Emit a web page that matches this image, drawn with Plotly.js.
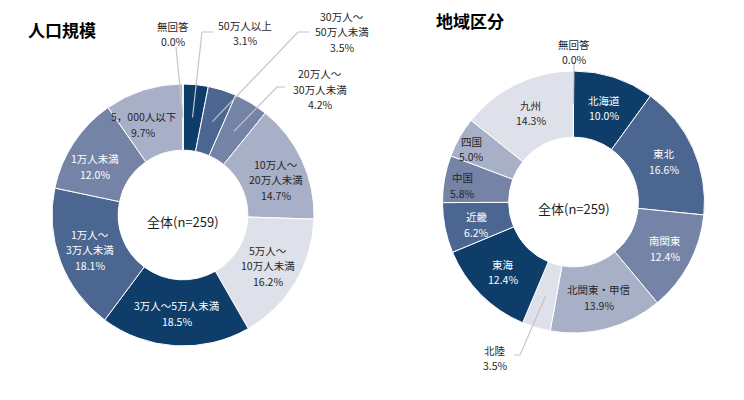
<!DOCTYPE html>
<html>
<head>
<meta charset="utf-8">
<script src="https://cdn.plot.ly/plotly-3.0.1.min.js"></script>
<style>
  html, body { margin: 0; padding: 0; background: #ffffff; }
  #chart { width: 744px; height: 400px; }
</style>
</head>
<body>
<div id="chart"></div>
<script>
// 人口規模 (population size of municipality), share in %
const popCats = ['50万人以上', '30万人～<br>50万人未満', '20万人～<br>30万人未満', '10万人～<br>20万人未満',
                 '5万人～<br>10万人未満', '3万人～5万人未満', '1万人～<br>3万人未満', '1万人未満',
                 '5，000人以下', '無回答'];
const popVals = [3.1, 3.5, 4.2, 14.7, 16.2, 18.5, 18.1, 12.0, 9.7, 0.0];

// 地域区分 (region), share in %
const regionCats = ['北海道', '東北', '南関東', '北関東・甲信', '北陸', '東海', '近畿', '中国', '四国', '九州', '無回答'];
const regionVals = [10.0, 16.6, 12.4, 13.9, 3.5, 12.4, 6.2, 5.8, 5.0, 14.3, 0.0];

const centerText = '全体(n=259)';
const popTitle = '人口規模';
const regionTitle = '地域区分';

// ---- styling ----
const W = 744, H = 400;
const shades = ['#0e3d69', '#4b6690', '#7584a6', '#a8b0c8', '#dfe1ea'];
const DARK = '#262626', LIGHT = '#ffffff';
const FONT = '"Noto Sans CJK JP", "Noto Sans", sans-serif';
const LABEL_SIZE = 10.5, LINE_GAP = 15.5;

// Ring geometry in pixels
const popRing = { cx: 183, cy: 215, r: 131, hole: 0.495 };
const regionRing = { cx: 573.5, cy: 202, r: 131, hole: 0.495 };

// Label placement: inside labels sit on the ring's mid-line (with small nudges),
// small slices get an outside label joined by a leader line.
const popLabelOpts = {
  0: { at: [245, 33], leader: [[213, 32], [202, 32]] },
  1: { at: [342, 32], leader: [[309, 32], [298, 32]] },
  2: { at: [320, 89], leader: [[285, 87], [277, 87]] },
  3: { nudge: [3, 6] },
  7: { nudge: [-5, 6] },
  8: { nudge: [-10, 4] },
  9: { at: [173, 34], leader: [[176, 47]] }
};
const popTextColor = [DARK, DARK, DARK, DARK, DARK, LIGHT, LIGHT, LIGHT, DARK, DARK];

const regionLabelOpts = {
  2: { nudge: [4, 0] },
  4: { at: [495, 358], leader: [[514, 355], [520, 355]] },
  6: { nudge: [0, 3] },
  7: { nudge: [-14, 1] },
  8: { nudge: [-16, -4] },
  10: { at: [574, 52], leader: [[574, 62]] }
};
const regionTextColor = [LIGHT, LIGHT, LIGHT, DARK, DARK, LIGHT, LIGHT, DARK, DARK, DARK, DARK];

const px = x => x / W;
const py = y => 1 - y / H;

function domainOf(g) {
  return {
    x: [px(g.cx - g.r), px(g.cx + g.r)],
    y: [py(g.cy + g.r), py(g.cy - g.r)]
  };
}

function pieTrace(cats, vals, g) {
  return {
    type: 'pie',
    labels: cats.map(c => c.replace(/<br>/g, '')),
    values: vals,
    hole: g.hole,
    sort: false,
    direction: 'clockwise',
    rotation: 0,
    domain: domainOf(g),
    marker: { colors: cats.map((_, i) => shades[i % shades.length]), line: { color: '#ffffff', width: 1 } },
    textinfo: 'none',
    hoverinfo: 'label+percent',
    showlegend: false
  };
}

// point on the ring at the angular middle of slice i, radius rr (pixels)
function midPoint(vals, i, g, rr) {
  const total = vals.reduce((a, b) => a + b, 0);
  let before = 0;
  for (let k = 0; k < i; k++) before += vals[k];
  const f = (before + vals[i] / 2) / total;
  const th = 2 * Math.PI * f;
  return [g.cx + rr * Math.sin(th), g.cy - rr * Math.cos(th)];
}

const annotations = [];
const shapes = [];

function addLabels(cats, vals, g, opts, colors) {
  const midR = g.r * (1 + g.hole) / 2;
  cats.forEach((cat, i) => {
    const o = opts[i] || {};
    let center;
    if (o.at) {
      center = o.at;
      const end = midPoint(vals, i, g, midR);
      const pts = o.leader.concat([end]);
      const d = pts.map((p, k) => (k ? 'L' : 'M') + px(p[0]) + ',' + py(p[1])).join(' ');
      shapes.push({ type: 'path', xref: 'paper', yref: 'paper', path: d,
                    line: { color: '#c4c4c4', width: 1.2 } });
    } else {
      const m = midPoint(vals, i, g, midR + 1);
      const n = o.nudge || [0, 0];
      center = [m[0] + n[0], m[1] + n[1]];
    }
    const lines = cat.split('<br>').concat([vals[i].toFixed(1) + '%']);
    const top = center[1] - (lines.length - 1) * LINE_GAP / 2;
    lines.forEach((t, k) => {
      annotations.push({
        xref: 'paper', yref: 'paper', x: px(center[0]), y: py(top + k * LINE_GAP),
        xanchor: 'center', yanchor: 'middle', showarrow: false, text: t,
        font: { family: FONT, size: LABEL_SIZE, color: colors[i] }
      });
    });
  });
}

addLabels(popCats, popVals, popRing, popLabelOpts, popTextColor);
addLabels(regionCats, regionVals, regionRing, regionLabelOpts, regionTextColor);

// centre captions of each ring
[popRing, regionRing].forEach(g => {
  annotations.push({
    xref: 'paper', yref: 'paper', x: px(g.cx), y: py(g.cy + 6),
    xanchor: 'center', yanchor: 'middle', showarrow: false, text: centerText,
    font: { family: FONT, size: 13, color: '#1a1a1a' }
  });
});

// chart titles
annotations.push({
  xref: 'paper', yref: 'paper', x: px(26), y: py(30), xanchor: 'left', yanchor: 'middle',
  showarrow: false, text: '<b>' + popTitle + '</b>', font: { family: FONT, size: 17, color: '#000000' }
});
annotations.push({
  xref: 'paper', yref: 'paper', x: px(434), y: py(21), xanchor: 'left', yanchor: 'middle',
  showarrow: false, text: '<b>' + regionTitle + '</b>', font: { family: FONT, size: 17, color: '#000000' }
});

const layout = {
  width: W, height: H,
  margin: { l: 0, r: 0, t: 0, b: 0 },
  paper_bgcolor: '#ffffff',
  plot_bgcolor: '#ffffff',
  showlegend: false,
  annotations: annotations,
  shapes: shapes
};

Plotly.newPlot('chart', [pieTrace(popCats, popVals, popRing), pieTrace(regionCats, regionVals, regionRing)],
               layout, { displayModeBar: false, staticPlot: true });
</script>
</body>
</html>
